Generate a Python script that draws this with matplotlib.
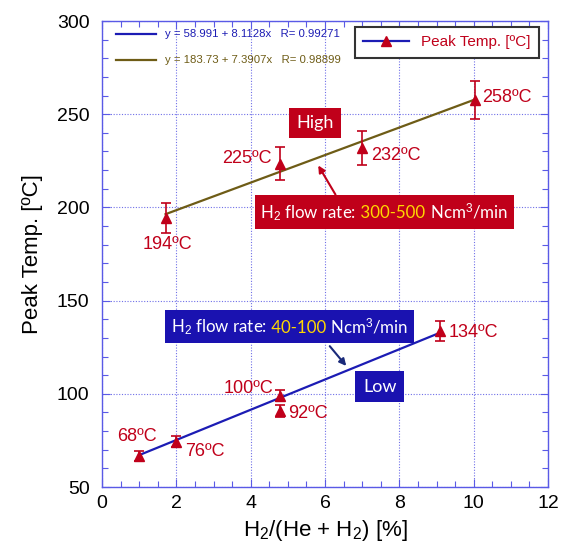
import matplotlib
matplotlib.use("Agg")
import matplotlib.pyplot as plt
from matplotlib.ticker import MultipleLocator
from matplotlib.lines import Line2D
from matplotlib.offsetbox import TextArea, HPacker, AnnotationBbox

plt.rcParams['font.family'] = ['Liberation Sans', 'DejaVu Sans']
plt.rcParams['mathtext.fontset'] = 'custom'
plt.rcParams['mathtext.rm'] = 'Liberation Sans'
plt.rcParams['mathtext.it'] = 'Liberation Sans:italic'
plt.rcParams['mathtext.bf'] = 'Liberation Sans:bold'

# ---- data ----
high_x = [1.71, 4.79, 7.0, 10.03]
high_y = [194.3, 223.5, 231.7, 257.6]
high_err = [7.8, 9.0, 9.2, 10.0]
high_labels = ["194ºC", "225ºC", "232ºC", "258ºC"]

low_x = [1.0, 1.99, 4.78, 4.78, 9.1]
low_y = [66.8, 74.3, 99.0, 90.8, 133.7]
low_err = [2.7, 3.0, 3.0, 3.0, 5.4]
low_labels = ["68ºC", "76ºC", "100ºC", "92ºC", "134ºC"]

fit_low = (58.991, 8.1128)
fit_high = (183.73, 7.3907)
fit_low_range = [1.0, 9.1]
fit_high_range = [1.71, 10.0]
fit_low_label = "y = 58.991 + 8.1128x   R= 0.99271"
fit_high_label = "y = 183.73 + 7.3907x   R= 0.98899"

RED = '#c0001a'
BLUE = '#1c1cb4'
BROWN = '#6e5c16'
AXBLUE = '#5a5ae6'
BOXRED = '#c0001a'
BOXBLUE = '#1a12b0'
YELLOW = '#ffd700'

W, H = 568, 559
fig = plt.figure(figsize=(W/100, H/100), dpi=100)
AX_L, AX_R, AX_T, AX_B = 102, 548, 21, 487
ax = fig.add_axes([AX_L/W, 1-AX_B/H, (AX_R-AX_L)/W, (AX_B-AX_T)/H])

def axfrac(px, py):
    return ((px-AX_L)/(AX_R-AX_L), (AX_B-py)/(AX_B-AX_T))

ax.set_xlim(0, 12)
ax.set_ylim(50, 300)
ax.xaxis.set_major_locator(MultipleLocator(2))
ax.xaxis.set_minor_locator(MultipleLocator(0.5))
ax.yaxis.set_major_locator(MultipleLocator(50))
ax.yaxis.set_minor_locator(MultipleLocator(10))
ax.tick_params(which='both', direction='in', top=True, right=True, color=AXBLUE,
               labelsize=14, labelcolor='black')
ax.tick_params(axis='y', pad=9)
ax.tick_params(axis='x', pad=6)
ax.tick_params(which='major', length=6, width=0.8)
ax.tick_params(which='minor', length=4, width=0.8)
for s in ax.spines.values():
    s.set_color(AXBLUE)
    s.set_linewidth(1.0)
ax.grid(True, which='major', linestyle=(0, (1, 1.5)), color='#7070e8', linewidth=0.8)
ax.set_axisbelow(True)

ax.set_xlabel(r"H$_2$/(He + H$_2$) [%]", fontsize=16, labelpad=4)
ax.set_ylabel("Peak Temp. [ºC]", fontsize=16, labelpad=10)

# fit lines
lx = fit_low_range
lh = fit_high_range
ax.plot(lx, [fit_low[0] + fit_low[1]*v for v in lx], color=BLUE, lw=1.6)
ax.plot(lh, [fit_high[0] + fit_high[1]*v for v in lh], color=BROWN, lw=1.6)

# data
for xs, ys, es in [(high_x, high_y, high_err), (low_x, low_y, low_err)]:
    ax.errorbar(xs, ys, yerr=es, fmt='^', color=RED, ms=7, capsize=3.5, elinewidth=1.2,
                capthick=1.2, zorder=5)

# labels
px = 0.72
high_off = [((2, -26), 'center'), ((-8, 5), 'right'), ((9, -7), 'left'), ((7, 3), 'left')]
low_off = [((-2, 19), 'center'), ((9, -10), 'left'), ((-6, 7), 'right'), ((8, -3), 'left'), ((8, -2), 'left')]
for xs, ys, labs, offs in [(high_x, high_y, high_labels, high_off), (low_x, low_y, low_labels, low_off)]:
    for x, y, t, ((dx, dy), ha) in zip(xs, ys, labs, offs):
        ax.annotate(t, (x, y), xytext=(dx*px, dy*px), textcoords='offset points',
                    ha=ha, va='center', color=RED, fontsize=13)

# fit "legend" (lines + colored text)
for (lab, col, ypx) in [(fit_low_label, BLUE, 34), (fit_high_label, BROWN, 60)]:
    x0, yy = axfrac(116, ypx)
    x1, _ = axfrac(156, ypx)
    xt, _ = axfrac(165, ypx)
    ax.plot([x0, x1], [yy, yy], transform=ax.transAxes, color=col, lw=1.6, clip_on=False)
    ax.text(xt, yy, lab, transform=ax.transAxes, color=col, fontsize=8.2,
            va='center', ha='left')

proxy = Line2D([], [], color=BLUE, lw=1.6, marker='^', mfc=RED, mec=RED, ms=7)
ax_anchor = axfrac(539, 27)
leg2 = ax.legend(handles=[proxy], labels=["Peak Temp. [ºC]"], loc='upper right',
                 fontsize=11, labelcolor=RED, fancybox=False, edgecolor='#333333',
                 framealpha=1, bbox_to_anchor=ax_anchor, borderaxespad=0,
                 handlelength=3.0, borderpad=0.55)
leg2.get_frame().set_linewidth(1.5)

# boxed annotations
NB = "\u00a0"

def tbox(parts, xy, fc, pad=0.35, fs=12.5):
    f = dict(family=['Lato', 'DejaVu Sans'], fontsize=fs)
    areas = [TextArea(t, textprops=dict(color=c, **f)) for t, c in parts]
    pack = HPacker(children=areas, align='baseline', pad=0, sep=0)
    ab = AnnotationBbox(pack, xy, xycoords='data', frameon=True, pad=pad,
                        bboxprops=dict(fc=fc, ec='none', boxstyle='square,pad=%g' % pad),
                        zorder=6)
    ax.add_artist(ab)

tbox([("High", 'white')], (5.73, 245.5), BOXRED, pad=0.5, fs=13)
tbox([("H$_2$ flow rate:", 'white'), (NB + "300-500", YELLOW), (NB + "Ncm$^3$/min", 'white')],
     (7.59, 197.5), BOXRED, pad=0.42, fs=12.2)
tbox([("H$_2$ flow rate:", 'white'), (NB + "40-100", YELLOW), (NB + "Ncm$^3$/min", 'white')],
     (5.04, 136.1), BOXBLUE, pad=0.42, fs=12.2)
tbox([("Low", 'white')], (7.47, 103.9), BOXBLUE, pad=0.55, fs=13)

ax.annotate("", xy=(5.78, 223.8), xytext=(6.32, 205.6),
            arrowprops=dict(arrowstyle='-|>', color=BOXRED, lw=1.5, mutation_scale=10))
ax.annotate("", xy=(6.62, 113.8), xytext=(6.08, 126.7),
            arrowprops=dict(arrowstyle='-|>', color='#1a2a7a', lw=1.5, mutation_scale=10))

fig.savefig("out.png", dpi=100)
